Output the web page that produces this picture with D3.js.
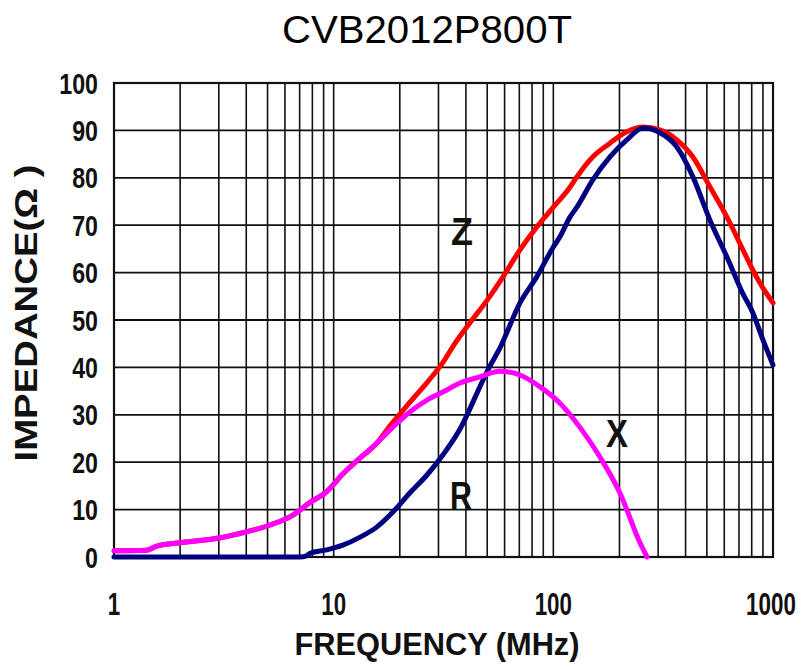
<!DOCTYPE html>
<html><head><meta charset="utf-8">
<script src="https://cdn.jsdelivr.net/npm/d3@7"></script>
<style>body{margin:0;background:#fff}svg{display:block}</style>
</head><body>
<svg id="c" width="803" height="669"></svg>
<script>
const title = "CVB2012P800T";
const xTicks = [1, 10, 100, 1000];
const yTicks = [0, 10, 20, 30, 40, 50, 60, 70, 80, 90, 100];

// Z (red)
const zFreq = [1, 1.4, 1.57, 2, 3, 4, 5.1, 6.5, 7.8, 9.3, 11, 13.2, 15.7, 18, 22.2, 26.6, 31.4, 35, 41.7, 50, 59, 70.5, 84, 100, 119, 128, 151, 181, 216, 256, 306, 365, 432, 516, 617, 730, 810, 872, 1000];
const zVal  = [1.3, 1.4, 2.3, 3.0, 4.0, 5.3, 6.7, 8.8, 11.5, 13.8, 17.5, 20.9, 24, 27.6, 32.6, 36.8, 41, 44.5, 49.4, 54.2, 59.1, 64.8, 69.6, 73.8, 78, 80.2, 84.4, 87.3, 89.7, 90.7, 90.1, 88, 84.4, 78.1, 71.7, 64.8, 60.5, 57.8, 53.6];

// R (navy)
const rFreq = [1, 7, 7.56, 7.8, 9.3, 11, 13.2, 15.7, 18.6, 22.2, 26.6, 31.4, 37.6, 46.3, 50.4, 57, 70.5, 84, 100, 107, 119, 128, 151, 181, 216, 256, 306, 365, 432, 516, 617, 730, 810, 900, 1000];
const rVal  = [0, 0, 0.3, 0.8, 1.5, 2.5, 4.2, 6.3, 9.5, 13.5, 17.3, 21.5, 27, 35.9, 39.5, 44, 53.6, 59.1, 65.4, 67.5, 71.7, 73.8, 79.5, 84.4, 88, 90.5, 89.5, 86.5, 80.2, 71.1, 63.3, 55.5, 51.5, 45.8, 40.5];

// X (magenta)
const xFreq = [1, 1.4, 1.57, 2, 3, 4, 5.1, 6.5, 7.8, 9.3, 11, 13.2, 15.7, 18.6, 22.2, 26.6, 31.4, 37.6, 46.3, 57, 70.5, 87, 107, 132, 163, 201, 248, 267];
const xVal  = [1.3, 1.4, 2.3, 3.0, 4.0, 5.3, 6.7, 8.8, 11.5, 13.8, 17.5, 20.9, 24, 27.4, 30.6, 33.1, 34.8, 36.7, 38, 39.2, 38.4, 35.9, 32.5, 27.4, 21.1, 13.5, 3, 0];

const svg = d3.select("#c");
const L = 114, R = 773, T = 83, B = 557;
const x = d3.scaleLog().domain([1, 1000]).range([L, R]);
const y = d3.scaleLinear().domain([0, 100]).range([B, T]);
const boldFont = "'Liberation Sans', Arial, sans-serif";

// grid
const vlines = [];
for (let d = 1; d < 1000; d *= 10) for (let k = 1; k <= 9; k++) vlines.push(d * k);
vlines.push(1000);
svg.append("g").selectAll("line").data(vlines).join("line")
  .attr("x1", d => x(d)).attr("x2", d => x(d)).attr("y1", T).attr("y2", B)
  .attr("stroke", "#111").attr("stroke-width", 1.6);
svg.append("g").selectAll("line").data(yTicks).join("line")
  .attr("x1", L).attr("x2", R).attr("y1", d => y(d)).attr("y2", d => y(d))
  .attr("stroke", "#111").attr("stroke-width", 1.8);
svg.append("rect").attr("x", L).attr("y", T).attr("width", R - L).attr("height", B - T)
  .attr("fill", "none").attr("stroke", "#111").attr("stroke-width", 2.2);

// y tick labels
svg.append("g").selectAll("text").data(yTicks).join("text")
  .attr("transform", d => `translate(98,${y(d) + 10.5}) scale(0.8,1)`).attr("text-anchor", "end")
  .attr("font-family", boldFont).attr("font-weight", "bold").attr("font-size", 29)
  .attr("fill", "#111").text(d => d);

// x tick labels
svg.append("g").selectAll("text").data(xTicks).join("text")
  .attr("transform", (d, i) => `translate(${x(d) - (i === xTicks.length - 1 ? 2 : 0)},615) scale(0.7,1)`)
  .attr("text-anchor", "middle")
  .attr("font-family", boldFont).attr("font-weight", "bold").attr("font-size", 32)
  .attr("fill", "#111").text(d => d);

// curves
const line = d3.line().x(d => x(d[0])).y(d => y(d[1])).curve(d3.curveMonotoneX);
const series = [
  {f: zFreq, v: zVal, c: "#ff0000"},
  {f: rFreq, v: rVal, c: "#000080"},
  {f: xFreq, v: xVal, c: "#ff00ff"}
];
series.forEach(s => {
  svg.append("path").datum(s.f.map((f, i) => [f, s.v[i]]))
    .attr("d", line).attr("fill", "none").attr("stroke", s.c)
    .attr("stroke-width", 5).attr("stroke-linejoin", "round").attr("stroke-linecap", "round");
});

// curve labels
const labels = [{t: "Z", x: 462, y: 245}, {t: "X", x: 617, y: 447}, {t: "R", x: 461, y: 509}];
svg.append("g").selectAll("text").data(labels).join("text")
  .attr("x", d => d.x).attr("y", d => d.y).attr("text-anchor", "middle")
  .attr("font-family", boldFont).attr("font-weight", "bold").attr("font-size", 38)
  .attr("textLength", 22).attr("lengthAdjust", "spacingAndGlyphs")
  .attr("fill", "#111").text(d => d.t);

// title
svg.append("text").attr("x", 427).attr("y", 43).attr("text-anchor", "middle")
  .attr("font-family", "'Liberation Sans', Arial, sans-serif").attr("font-size", 39)
  .attr("textLength", 290).attr("lengthAdjust", "spacingAndGlyphs")
  .attr("fill", "#000").text(title);

// axis titles
svg.append("text").attr("x", 437).attr("y", 655).attr("text-anchor", "middle")
  .attr("font-family", boldFont).attr("font-weight", "bold").attr("font-size", 32)
  .attr("textLength", 285).attr("lengthAdjust", "spacingAndGlyphs")
  .attr("fill", "#111").text("FREQUENCY (MHz)");
svg.append("text").attr("transform", "translate(37,313) rotate(-90)").attr("text-anchor", "middle")
  .attr("font-family", boldFont).attr("font-weight", "bold").attr("font-size", 32)
  .attr("textLength", 297).attr("lengthAdjust", "spacingAndGlyphs")
  .attr("fill", "#111").text("IMPEDANCE(Ω )");
</script>
</body></html>
